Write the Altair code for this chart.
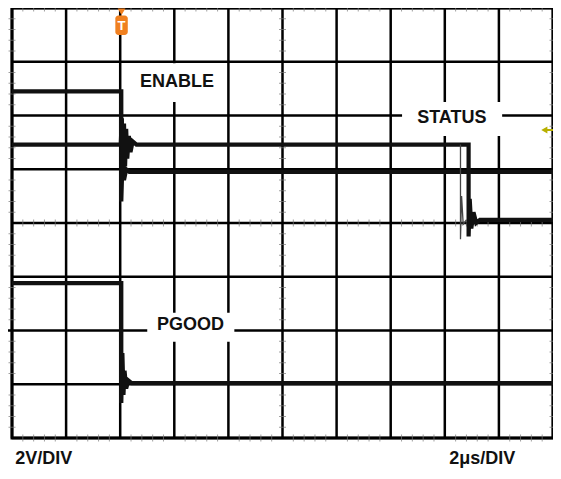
import altair as alt
import pandas as pd
import numpy as np

# ---- data (oscilloscope divisions: x 0..10, y 0..8 from bottom) ----
grid_x = list(range(11))
grid_y = list(range(9))

enable_x = [0, 2.02, 2.02, 2.04, 2.07, 2.11, 2.17, 10]
enable_y = [6.45, 6.45, 4.40, 5.10, 4.80, 5.00, 4.95, 4.95]

status_x = [0, 2.01, 2.03, 2.05, 2.07, 2.09, 2.11, 2.13, 2.16, 2.19, 2.23, 2.30,
            8.44, 8.44, 8.46, 8.49, 8.53, 8.58, 8.65, 10]
status_y = [5.46, 5.46, 5.95, 4.95, 5.85, 5.05, 5.75, 5.20, 5.62, 5.32, 5.52, 5.46,
            5.46, 3.75, 4.45, 3.90, 4.20, 4.00, 4.06, 4.06]

ghost_x = [8.29, 8.29, 8.31, 8.34, 8.40]
ghost_y = [5.46, 3.70, 4.50, 3.98, 4.06]

pgood_x = [0, 2.02, 2.02, 2.04, 2.06, 2.08, 2.11, 2.15, 2.21, 10]
pgood_y = [2.88, 2.88, 0.65, 1.58, 0.80, 1.25, 0.92, 1.07, 1.02, 1.02]

labels = ["ENABLE", "STATUS", "PGOOD"]
label_x = [3.05, 8.13, 3.30]
label_y = [6.62, 5.95, 2.11]
box_x1 = [2.20, 7.21, 2.50]
box_x2 = [3.90, 9.06, 4.11]
box_y1 = [6.25, 5.62, 1.79]
box_y2 = [6.97, 6.25, 2.33]

scale_labels = ["2V/DIV", "2\u03bcs/DIV"]
scale_label_x = [0.06, 8.08]
scale_label_y = [-0.39, -0.39]

minor = [round(v, 2) for v in np.arange(0.2, 10.0, 0.2) if abs(v - round(v)) > 1e-6]
minor_y = [round(v, 2) for v in np.arange(0.2, 8.0, 0.2) if abs(v - round(v)) > 1e-6]

W, H = 541, 430
X = alt.Scale(domain=[0, 10], nice=False, zero=False)
Y = alt.Scale(domain=[0, 8], nice=False, zero=False)


def xe(f="x"):
    return alt.X(f"{f}:Q", scale=X, axis=None)


def ye(f="y"):
    return alt.Y(f"{f}:Q", scale=Y, axis=None)


# grid
vgrid = alt.Chart(pd.DataFrame({"x": grid_x})).mark_rule(color="black", strokeWidth=2.5).encode(
    x=xe(), y=alt.value(0), y2=alt.value(H))
hgrid = alt.Chart(pd.DataFrame({"y": grid_y})).mark_rule(color="black", strokeWidth=2.5).encode(
    y=ye(), x=alt.value(0), x2=alt.value(W))

# minor ticks on edges and centre lines
tick_h = pd.DataFrame([(m, yy) for yy in [0, 4, 8] for m in minor], columns=["x", "y"])
tick_v = pd.DataFrame([(xx, m) for xx in [0, 5, 10] for m in minor_y], columns=["x", "y"])
ticks_h = alt.Chart(tick_h).mark_tick(orient="vertical", color="#777", size=7, thickness=1).encode(
    x=xe(), y=ye())
ticks_v = alt.Chart(tick_v).mark_tick(orient="horizontal", color="#777", size=7, thickness=1).encode(
    x=xe(), y=ye())

# ground marker outside the left edge
gnd = alt.Chart(pd.DataFrame({"x": [-0.08], "x2": [0.0], "y": [2]})).mark_rule(
    color="black", strokeWidth=2.5, clip=False).encode(x=xe(), x2="x2:Q", y=ye())

# white label boxes
boxes = alt.Chart(pd.DataFrame({"x": box_x1, "x2": box_x2, "y": box_y1, "y2": box_y2})).mark_rect(
    color="white").encode(x=xe(), x2="x2:Q", y=ye(), y2="y2:Q")


def trace(xs, ys, width=4.2, color="#111"):
    df = pd.DataFrame({"x": xs, "y": ys, "i": range(len(xs))})
    return alt.Chart(df).mark_line(color=color, strokeWidth=width, strokeJoin="miter").encode(
        x=xe(), y=ye(), order="i:Q")


t_enable = trace(enable_x, enable_y)
t_status = trace(status_x, status_y)
t_ghost = trace(ghost_x, ghost_y, width=1.3, color="#444")
t_pgood = trace(pgood_x, pgood_y)

txt = alt.Chart(pd.DataFrame({"x": label_x, "y": label_y, "t": labels})).mark_text(
    font="Liberation Sans", fontWeight="bold", fontSize=18, color="#111").encode(
    x=xe(), y=ye(), text="t:N")

stxt = alt.Chart(pd.DataFrame({"x": scale_label_x, "y": scale_label_y, "t": scale_labels})).mark_text(
    font="Liberation Sans", fontWeight="bold", fontSize=18, color="#111", align="left", clip=False).encode(
    x=xe(), y=ye(), text="t:N")

# trigger marker
trig_box = alt.Chart(pd.DataFrame({"x": [1.91], "x2": [2.14], "y": [7.50], "y2": [7.86]})).mark_rect(
    color="#f08020", cornerRadius=3).encode(x=xe(), x2="x2:Q", y=ye(), y2="y2:Q")
trig_tri = alt.Chart(pd.DataFrame({"x": [2.025], "y": [7.93]})).mark_point(
    shape="triangle-down", filled=True, color="#f08020", size=60, opacity=1).encode(x=xe(), y=ye())
trig_t = alt.Chart(pd.DataFrame({"x": [2.025], "y": [7.67], "t": ["T"]})).mark_text(
    font="Liberation Sans", fontWeight="bold", fontSize=13, color="white").encode(
    x=xe(), y=ye(), text="t:N")

# reference level arrow on the right
arr_line = alt.Chart(pd.DataFrame({"x": [9.84], "x2": [10.0], "y": [5.73]})).mark_rule(
    color="#b8b000", strokeWidth=2).encode(x=xe(), x2="x2:Q", y=ye())
arr_head = alt.Chart(pd.DataFrame({"x": [9.84], "y": [5.73]})).mark_point(
    shape="triangle-left", filled=True, color="#b8b000", size=50, opacity=1).encode(x=xe(), y=ye())

chart = alt.layer(
    vgrid, hgrid, ticks_h, ticks_v, gnd, boxes,
    t_enable, t_status, t_ghost, t_pgood,
    txt, stxt, trig_box, trig_tri, trig_t, arr_line, arr_head
).properties(
    width=W, height=H,
    padding={"left": 4, "top": 0, "right": 0, "bottom": 31},
    autosize=alt.AutoSizeParams(type="none"),
    background="white",
).configure_view(stroke="black", strokeWidth=3)

chart.save("out.html", embed_options={"renderer": "svg", "actions": False})
